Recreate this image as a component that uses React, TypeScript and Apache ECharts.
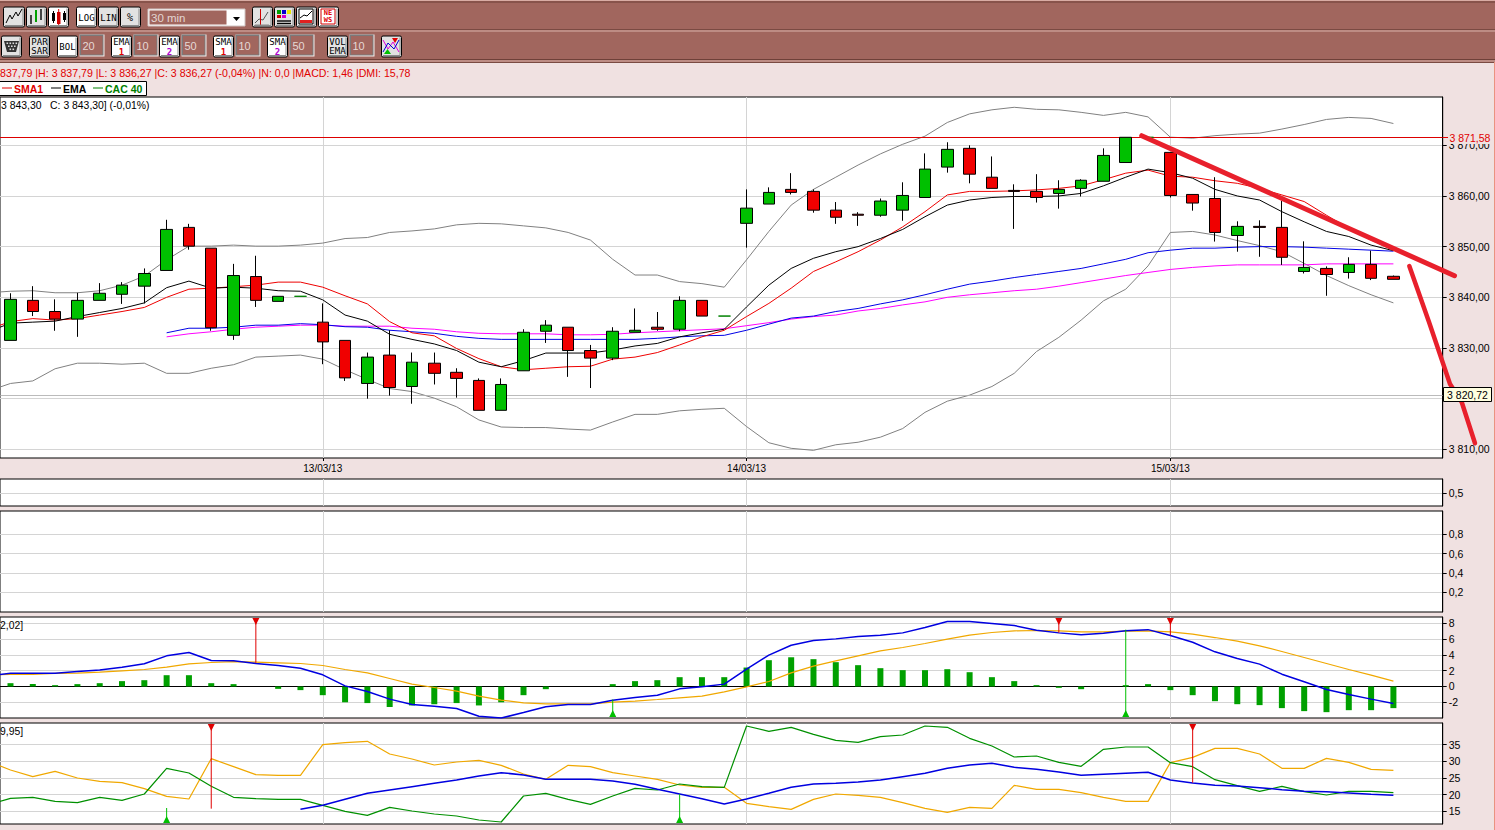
import React, { useEffect, useRef } from "react";
import * as echarts from "echarts";

// ---------- Price panel ----------
const opens = [3831.5,3839.4,3837.2,3835.7,3839.4,3840.6,3842.2,3845.3,3853.8,3849.7,3832.5,3844.1,3839.2,3840.2,3835.1,3831.5,3823.0,3828.6,3822.4,3827.0,3825.2,3823.6,3817.7,3825.5,3833.3,3834.1,3829.5,3828.0,3833.1,3834.1,3833.7,3839.4,3836.3,3854.6,3858.4,3861.3,3860.9,3857.2,3856.4,3856.2,3857.2,3859.7,3865.7,3869.4,3863.7,3861.1,3860.9,3860.5,3861.5,3862.9,3866.6,3871.58,3868.6,3860.3,3859.5,3852.2,3854.0,3853.8,3845.1,3845.7,3844.9,3846.5,3844.15];
const closes = [3839.6,3837.2,3835.7,3839.4,3840.8,3842.4,3844.7,3853.4,3850.1,3834.0,3844.3,3839.4,3840.2,3840.2,3831.2,3824.1,3828.2,3822.2,3827.2,3825.0,3824.0,3817.7,3822.8,3833.1,3834.5,3829.5,3828.0,3833.3,3833.5,3833.7,3839.4,3836.3,3836.3,3857.6,3860.7,3860.7,3857.2,3855.8,3856.2,3859.0,3860.1,3865.3,3869.2,3864.3,3861.5,3860.9,3859.7,3861.3,3863.1,3868.0,3871.58,3871.58,3860.1,3858.6,3852.8,3854.0,3853.8,3847.9,3845.9,3844.5,3846.5,3843.75,3843.55];
const lows = [3831.5,3836.3,3833.4,3832.2,3839.4,3838.7,3838.8,3845.3,3849.4,3833.4,3831.6,3838.1,3839.2,3840.2,3826.8,3823.5,3820.0,3820.6,3819.0,3822.8,3820.2,3817.7,3817.7,3825.5,3831.0,3824.3,3822.1,3827.6,3833.1,3833.4,3833.3,3836.3,3836.3,3849.8,3858.4,3860.3,3856.7,3854.5,3854.1,3855.9,3855.1,3859.7,3864.6,3862.5,3861.5,3853.5,3858.7,3857.5,3859.9,3862.9,3866.6,3871.58,3859.7,3857.1,3851.0,3849.0,3848.0,3846.4,3844.7,3840.3,3843.7,3843.4,3843.55];
const highs = [3840.8,3842.2,3839.6,3840.9,3842.8,3843.0,3845.7,3855.3,3854.5,3849.7,3846.6,3848.2,3840.2,3840.2,3838.8,3831.5,3829.1,3833.5,3829.1,3829.1,3826.0,3824.0,3824.0,3833.7,3835.5,3834.1,3830.6,3834.1,3837.8,3837.1,3840.2,3839.4,3836.3,3861.3,3861.7,3864.5,3861.3,3858.8,3856.8,3859.5,3862.7,3868.4,3870.6,3870.0,3867.8,3862.3,3864.3,3863.1,3863.3,3869.4,3871.58,3871.58,3868.6,3860.3,3863.7,3855.0,3855.2,3859.0,3851.05,3846.1,3847.9,3849.2,3844.3];

const bollUpper = [3841.2,3841.3,3840.9,3840.9,3841.3,3842.4,3844.2,3847.4,3850.1,3850.1,3850.3,3850.1,3850.1,3850.3,3850.7,3851.6,3851.8,3852.8,3853.1,3853.5,3854.3,3854.6,3854.5,3854.1,3853.7,3852.8,3851.3,3847.5,3844.4,3844.4,3843.1,3842.7,3842.0,3847.4,3853.0,3858.2,3861.3,3863.7,3866.1,3868.3,3870.2,3871.8,3874.5,3876.2,3877.0,3877.5,3877.1,3877.0,3876.5,3875.9,3876.5,3875.6,3871.6,3871.4,3871.9,3872.2,3872.4,3873.2,3874.1,3875.1,3875.5,3875.3,3874.3];
const bollLower = [3823.0,3823.5,3825.9,3827.0,3827.0,3826.8,3827.0,3825.0,3825.0,3826.0,3826.7,3828.2,3828.4,3828.6,3827.8,3825.7,3823.8,3822.0,3821.4,3820.1,3818.4,3815.8,3814.4,3814.3,3814.3,3814.0,3813.8,3815.4,3816.9,3816.9,3817.6,3817.9,3818.1,3814.5,3811.3,3810.2,3809.8,3810.9,3811.4,3812.4,3814.1,3817.3,3819.5,3820.7,3822.4,3825.0,3829.3,3832.1,3835.5,3839.3,3841.6,3846.2,3852.8,3853.0,3852.3,3851.2,3850.2,3849.0,3846.7,3844.3,3842.3,3840.5,3838.9];
const sma1 = [3835.2,3835.8,3835.5,3835.8,3836.5,3837.2,3838.0,3840.0,3841.6,3841.8,3842.1,3842.4,3843.0,3843.0,3842.0,3840.3,3838.7,3835.2,3833.0,3832.4,3829.9,3827.9,3826.3,3825.7,3826.0,3826.3,3826.4,3827.8,3828.2,3829.1,3830.6,3832.2,3833.5,3836.2,3838.8,3841.8,3845.1,3847.0,3849.0,3851.3,3853.9,3856.9,3860.2,3860.9,3860.9,3861.0,3861.2,3861.5,3862.0,3863.2,3864.5,3865.1,3863.9,3863.7,3863.0,3862.5,3861.5,3860.2,3858.9,3856.2,3853.6,3851.3,3849.3];
const ema1 = [3834.9,3835.1,3835.3,3836.2,3837.0,3837.8,3838.9,3841.9,3843.2,3841.8,3842.0,3841.8,3841.3,3841.2,3839.5,3836.5,3835.3,3832.7,3831.7,3830.8,3829.5,3827.2,3826.3,3827.5,3829.0,3829.0,3829.0,3829.6,3830.4,3830.9,3832.2,3833.0,3833.7,3838.1,3842.4,3845.7,3847.7,3849.0,3850.0,3851.6,3853.4,3855.9,3858.2,3859.2,3859.7,3859.9,3859.9,3860.0,3860.5,3862.0,3863.7,3865.3,3864.6,3863.5,3861.3,3860.0,3859.2,3856.9,3854.9,3853.0,3852.0,3850.3,3849.2];
const ema2 = [null,null,null,null,null,null,null,3833.0,3833.9,3833.9,3834.1,3834.5,3834.5,3834.8,3834.6,3834.2,3834.1,3833.5,3833.2,3832.9,3832.3,3831.9,3831.7,3831.7,3831.7,3831.7,3831.7,3831.7,3831.7,3831.9,3832.2,3832.4,3832.5,3833.5,3834.7,3835.9,3836.3,3837.2,3837.8,3838.7,3839.5,3840.5,3841.6,3842.6,3843.2,3843.9,3844.5,3845.1,3845.7,3846.6,3847.5,3848.8,3849.3,3849.7,3849.7,3849.9,3850.0,3850.0,3849.9,3849.7,3849.5,3849.3,3849.1];
const sma2 = [null,null,null,null,null,null,null,3832.2,3832.8,3833.2,3833.7,3834.1,3834.3,3834.5,3834.5,3834.3,3834.3,3834.3,3833.9,3833.7,3833.2,3832.9,3832.8,3832.8,3832.8,3832.6,3832.6,3832.7,3833.0,3833.2,3833.4,3833.6,3833.8,3834.4,3835.0,3835.7,3836.2,3836.5,3837.3,3837.8,3838.5,3839.1,3840.0,3840.5,3840.9,3841.3,3841.6,3842.2,3842.9,3843.6,3844.3,3844.9,3845.5,3845.9,3846.2,3846.4,3846.4,3846.4,3846.4,3846.6,3846.6,3846.6,3846.6];

// values of the session just before the first visible candle (their lines enter from the left edge)
const bollUpperBefore = 3840.9;
const bollLowerBefore = 3821.5;
const sma1Before = 3833.7;
const ema1Before = 3833.2;

const levelHigh = 3871.58;
const levelLast = 3820.72;
const priceTicks = [3810, 3820, 3830, 3840, 3850, 3860, 3870];
const priceLabels = [3810, 3830, 3840, 3850, 3860, 3870];
const dateIndexes = [14, 33, 52];
const dateLabels = ["13/03/13", "14/03/13", "15/03/13"];

// ---------- MACD panel ----------
const macdHist = [0.42,0.3,0.17,0.3,0.42,0.68,0.8,1.43,1.43,0.42,0.3,0,-0.3,-0.46,-1.1,-2.0,-2.1,-2.6,-2.4,-2.25,-2.1,-2.4,-2.0,-1.1,-0.34,0,0,0.3,0.68,0.8,1.18,1.18,1.18,2.4,3.33,3.7,3.46,3.08,2.7,2.32,2.07,2.07,2.19,1.81,1.18,0.68,0.17,-0.17,-0.34,0,0.17,0.3,-0.46,-1.1,-1.86,-2.24,-2.36,-2.74,-3.12,-3.25,-3.0,-3.0,-2.74];
const macdLine = [1.69,1.69,1.69,1.9,2.1,2.45,2.87,3.88,4.3,3.29,3.25,2.91,2.66,2.32,1.48,0.08,-0.63,-1.6,-2.28,-2.49,-2.78,-3.76,-4.0,-3.29,-2.57,-2.28,-2.28,-1.73,-1.39,-1.1,-0.3,-0.04,0.3,2.19,3.97,5.23,5.82,6.03,6.33,6.5,6.79,7.47,8.23,8.23,7.97,7.72,7.13,6.79,6.54,6.75,7.05,7.2,6.46,5.61,4.39,3.54,2.83,1.56,0.59,-0.38,-1.01,-1.6,-2.15];
const macdSignal = [1.52,1.52,1.65,1.69,1.81,1.98,2.15,2.45,2.87,3.04,3.16,3.08,3.0,2.91,2.66,2.15,1.73,1.01,0.3,-0.13,-0.59,-1.22,-1.73,-2.07,-2.19,-2.19,-2.19,-1.98,-1.86,-1.65,-1.43,-1.22,-0.68,-0.04,0.63,1.73,2.57,3.25,3.88,4.51,4.94,5.44,5.99,6.5,6.84,7.05,7.09,7.05,6.92,6.92,7.0,7.05,6.92,6.62,6.2,5.74,5.15,4.43,3.67,2.91,2.15,1.43,0.68];
const macdLineBefore = 1.3;
const macdSignalBefore = 1.5;
const macdSell = [[11, 3.0], [47, 6.8], [52, 6.46]];
const macdBuy = [[27, -1.65], [50, 7.2]];
const macdTicks = [-2, 0, 2, 4, 6, 8];

// ---------- DMI panel ----------
const dmiMinus = [27.4,25.4,27,25,24,23.6,21.8,19.5,18.7,30.8,28.4,26,25.8,25.8,35,35.6,36,32.2,30.7,28.9,29.8,30.3,28.8,26.2,24.6,28.8,28.4,26.6,25.6,24.6,22.9,22.2,22.2,17.4,16.4,15.6,18.6,20.2,19.8,19.2,17.6,15.9,14.7,16.2,15.9,22.8,21.6,21.6,20.6,19.2,18,18,29.6,31.2,33.9,33.9,32.2,27.9,27.9,30.9,29.7,27.6,27.3];
const dmiPlus = [18.9,19.2,18,17.6,19.2,18.3,20.2,27.9,26.5,22.5,19.2,18.8,18.6,18.6,16.8,15,13.8,16.2,15.1,14.2,13.6,12.4,11.8,19.6,20.4,18.6,17.1,19.6,21.9,21.4,23.2,22.4,22.2,40.6,39,40.2,38.1,36.3,35.7,37.4,37.9,40.6,40.2,36.9,34.6,31.3,31.6,29.7,28.5,33.6,34.3,34.3,29.6,28.4,24.5,22.7,21,22.5,20.9,19.9,21,21,20.6];
const adx = [null,null,null,null,null,null,null,null,null,null,null,null,null,15.6,16.8,18.6,20.4,21.4,22.4,23.4,24.4,25.6,26.6,25.9,24.6,24.6,24.6,24.1,23.1,21.6,20.2,18.8,17.2,18.7,20.4,22.2,23.2,23.4,23.8,24.4,25.4,26.4,27.9,28.9,29.4,28.2,27.6,26.8,25.8,26.1,26.4,26.7,24.4,23.5,22.8,22.6,22.1,21.5,21,20.9,20.5,20.1,19.8];
const dmiMinusBefore = 30;
const dmiPlusBefore = 16.9;
const dmiSell = [[9, 15.8], [53, 23.6]];
const dmiBuy = [[7, 16], [30, 20.2]];
const dmiTicks = [15, 20, 25, 30, 35];

const panel2Ticks = [0.5];
const panel3Ticks = [0.2, 0.4, 0.6, 0.8];

// ---------- Text ----------
const infoText = "837,79 |H: 3 837,79 |L: 3 836,27 |C: 3 836,27 (-0,04%) |N: 0,0 |MACD: 1,46 |DMI: 15,78";
const priceCaption = "3 843,30   C: 3 843,30] (-0,01%)";
const macdCaption = "2,02]";
const dmiCaption = "9,95]";
const timeframe = "30 min";

const FONT = "'Liberation Sans', Arial, sans-serif";
const MONO = "'DejaVu Sans Mono', monospace";
const GRID = "#d4d4d4";
const BROWN = "#a1665e";
const PAGE = "#f0e1e1";

const fmtPrice = (v: number) => {
  const s = v.toFixed(2).replace(".", ",");
  return s.slice(0, 1) + " " + s.slice(1);
};
const fmtComma = (v: number) => String(v).replace(".", ",");
const withIndex = (a: (number | null)[], before?: number) => {
  const pts = a.map((v, i) => [i, v]);
  return before === undefined ? pts : [[-1, before], ...pts];
};

const rect = (x: number, y: number, w: number, h: number, fill: string, stroke?: string, r = 0, z = 1) => ({
  type: "rect", z, shape: { x, y, width: w, height: h, r }, style: { fill, stroke: stroke || "none", lineWidth: 1 },
});
const txt = (x: number, y: number, text: string, fill: string, font: string, align = "center", z = 7) => ({
  type: "text", z, style: { x, y, text, fill, font, textAlign: align, textVerticalAlign: "middle" },
});
const seg = (x1: number, y1: number, x2: number, y2: number, stroke: string, lineWidth = 1, z = 3) => ({
  type: "line", z, shape: { x1, y1, x2, y2 }, style: { stroke, lineWidth },
});
const poly = (points: number[][], stroke: string, lineWidth = 1, z = 3) => ({
  type: "polyline", z, shape: { points }, style: { stroke, lineWidth, fill: "none" },
});

function button(x: number, y: number, w: number, h: number, fill: string) {
  return [
    rect(x + 0.5, y + 0.5, w, h, fill, "#000", 1.5, 2),
    seg(x + 2, y + h - 1, x + w - 1, y + h - 1, "#8a8a8a"),
    seg(x + w - 1, y + 2, x + w - 1, y + h - 1, "#8a8a8a"),
  ];
}
// sunken entry box, built from three stacked fills
function field(x: number, y: number, w: number, h: number, label: string) {
  return [
    rect(x - 1, y - 1, w + 2, h + 2, "#f6eeec", undefined, 0, 4),
    rect(x - 1, y - 1, w + 1, h + 1, "#7a7a7a", undefined, 0, 5),
    rect(x + 0.5, y + 0.5, w - 1.5, h - 1.5, BROWN, undefined, 0, 6),
    txt(x + 2, y + h / 2 + 0.5, label, "#e6d9d6", "11px " + FONT, "left"),
  ];
}

function toolbar(): any[] {
  const el: any[] = [];
  el.push(rect(0, 0, 1495, 62, BROWN, undefined, 0, 0));
  el.push(seg(0, 0.5, 1495, 0.5, "#d9aca4", 1, 1), seg(0, 2, 1495, 2, "#6e4038", 1, 1));
  el.push(seg(0, 29.5, 1495, 29.5, "#7a4a42", 1, 1), seg(0, 31, 1495, 31, "#c79a92", 1.5, 1));
  el.push(seg(0, 59.5, 1495, 59.5, "#6e4038", 1, 1), seg(0, 61, 1495, 61, "#c79a92", 1.5, 1), seg(0, 62.5, 1495, 62.5, "#7a4a42", 1, 1));
  el.push(seg(1494.5, 62, 1494.5, 830, "#ea9280", 1, 1));
  // first row
  const y1 = 6.5, h1 = 20;
  el.push(...button(3, y1, 21, h1, "#e2e2e2"));
  el.push(poly([[6, 23], [10, 15], [12, 19], [16, 12], [18, 16], [22, 9]], "#000"));
  el.push(...button(26, y1, 20, h1, "#e2e2e2"));
  el.push(seg(31, 15, 31, 24, "#000", 1.4), seg(36, 10, 36, 22, "#00a000", 2), seg(41, 9, 41, 20, "#000", 1.4));
  el.push(...button(48, y1, 20, h1, "#fff"));
  el.push(rect(52, 13, 3, 8, "#000", undefined, 0, 3), seg(53.5, 11, 53.5, 23, "#000"), rect(57, 12, 3.5, 12, "#d00000", undefined, 0, 3), seg(58.7, 9, 58.7, 25, "#d00000"), rect(63, 13, 3, 7, "#000", undefined, 0, 3), seg(64.5, 11, 64.5, 22, "#000"));
  el.push(...button(76, y1, 20, h1, "#fff"), txt(86.5, 18, "LOG", "#000", "9px " + MONO));
  el.push(...button(98, y1, 20, h1, "#e2e2e2"), txt(108.5, 17.5, "LIN", "#000", "9px " + MONO));
  el.push(...button(120, y1, 20, h1, "#e2e2e2"), txt(130, 17.5, "%", "#000", "10px " + MONO));
  // drop-down
  el.push(rect(148, 9, 97, 17, "#fff", "#cfc4c2", 0, 2));
  el.push(rect(149.5, 10.5, 77, 14, BROWN, undefined, 0, 3));
  el.push(txt(151, 18, timeframe, "#e4d6d3", "11.5px " + FONT, "left"));
  el.push({ type: "polygon", z: 3, shape: { points: [[233, 17], [240, 17], [236.5, 21]] }, style: { fill: "#000" } });
  // chart tools
  el.push(...button(252, y1, 20, h1, "#e2e2e2"));
  el.push(poly([[255, 23], [259, 19], [263, 20], [268, 12]], "#555"), seg(260.5, 9, 260.5, 25, "#d00000"), seg(255, 25, 269, 25, "#888"));
  el.push(...button(274, y1, 20, h1, "#e2e2e2"));
  el.push(rect(277, 10, 4, 4, "#00a000", undefined, 0, 3), rect(282, 10, 4, 4, "#0000d0", undefined, 0, 3), rect(287, 10, 4, 4, "#e8e800", undefined, 0, 3), rect(277, 15, 4, 3, "#d00000", undefined, 0, 3), rect(282, 15, 4, 3, "#d000d0", undefined, 0, 3), seg(277, 21, 291, 21, "#000", 1.4), seg(277, 23.5, 291, 23.5, "#000", 1.4));
  el.push(...button(296, y1, 20, h1, "#e2e2e2"));
  el.push(rect(299, 9, 14, 15, "#fff", "#000", 0, 3), poly([[300, 18], [304, 15], [307, 16], [312, 11]], "#000", 1, 4), rect(300, 20, 12, 3, "#e02020", undefined, 0, 4));
  el.push(...button(318, y1, 20, h1, "#fff"));
  el.push(rect(321, 9, 14, 15, "#fff", "#d00000", 0, 3), txt(328, 13, "NE", "#e00000", "bold 7px " + MONO), txt(328, 20, "WS", "#e00000", "bold 7px " + MONO));
  // second row
  const y2 = 35.5, h2 = 21;
  el.push(...button(1, y2, 20, h2, "#e2e2e2"));
  el.push({ type: "polygon", z: 3, shape: { points: [[4, 41], [19, 41], [16, 52], [7, 52]] }, style: { fill: "#333" } });
  for (let r = 0; r < 3; r++) for (let c = 0; c < 4 - r; c++) el.push(rect(6.5 + r * 1.5 + c * 3, 42.5 + r * 3, 1.6, 1.6, "#ddd", undefined, 0, 4));
  el.push(...button(29, y2, 20, h2, "#e2e2e2"), txt(39.5, 41.5, "PAR", "#000", "9px " + MONO), txt(39.5, 51, "SAR", "#000", "9px " + MONO));
  el.push(...button(57, y2, 20, h2, "#fff"), txt(67.5, 47, "BOL", "#000", "9px " + MONO));
  el.push(...field(80.5, 35.5, 23, 20, "20"));
  const ind = (x: number, a: string, b: string, col: string, iv: string, ix: number) => {
    el.push(...button(x, y2, 20, h2, "#fff"), txt(x + 10.5, 42, a, "#000", "9px " + MONO), txt(x + 10.5, 52, b, col, "bold 9px " + MONO));
    el.push(...field(ix, 35.5, 23, 20, iv));
  };
  ind(111, "EMA", "1", "#e00000", "10", 134.5);
  ind(159, "EMA", "2", "#b000d0", "50", 182.5);
  ind(213, "SMA", "1", "#e00000", "10", 236.5);
  ind(267, "SMA", "2", "#b000d0", "50", 290.5);
  el.push(...button(327, y2, 20, h2, "#e2e2e2"), txt(337.5, 41.5, "VOL", "#000", "9px " + MONO), txt(337.5, 51, "EMA", "#000", "9px " + MONO));
  el.push(...field(350.5, 35.5, 23, 20, "10"));
  el.push(...button(381, y2, 20, h2, "#e2e2e2"));
  el.push(poly([[383, 40], [388, 49], [393, 42], [399, 52]], "#e000e0"), poly([[383, 52], [388, 43], [394, 49], [399, 40]], "#0000d0"));
  el.push({ type: "polygon", z: 4, shape: { points: [[392, 38], [398, 38], [395, 43]] }, style: { fill: "#e00000" } });
  el.push({ type: "polygon", z: 4, shape: { points: [[384, 54], [391, 54], [387.5, 49]] }, style: { fill: "#00c000" } });
  // info line + legend
  el.push(txt(0, 72.5, infoText, "#e00000", "10.6px " + FONT, "left"));
  el.push(rect(-2, 81.5, 148.5, 14, "#fff", "#000"));
  el.push(seg(2, 88, 12, 88, "#e00000"), txt(14, 88.5, "SMA1", "#e00000", "bold 10.5px " + FONT, "left"));
  el.push(seg(51, 88, 61, 88, "#000"), txt(63, 88.5, "EMA", "#000", "bold 10.5px " + FONT, "left"));
  el.push(seg(93, 88, 103, 88, "#008000"), txt(105, 88.5, "CAC 40", "#008000", "bold 10.5px " + FONT, "left"));
  return el;
}

function overlay(): any[] {
  return [
    txt(1, 105.5, priceCaption, "#000", "10.4px " + FONT, "left", 50),
    txt(0, 625.5, macdCaption, "#000", "10.4px " + FONT, "left", 50),
    txt(0, 731.5, dmiCaption, "#000", "10.4px " + FONT, "left", 50),
    // hand-drawn trend strokes
    { type: "line", z: 60, shape: { x1: 1141.7, y1: 135.7, x2: 1454.5, y2: 275.7 }, style: { stroke: "#e8202c", lineWidth: 5, lineCap: "round" } },
    { type: "polyline", z: 60, shape: { points: [[1409.3, 266], [1429, 322], [1450, 384], [1461.7, 402], [1475, 443.3]] }, style: { stroke: "#e8202c", lineWidth: 4.5, lineCap: "round", fill: "none" } },
    seg(1443, 137.5, 1448, 137.5, "#e00000", 1, 61),
    rect(1448, 131, 44, 13, PAGE, undefined, 0, 62),
    txt(1449.5, 137.5, fmtPrice(levelHigh), "#e00000", "10.5px " + FONT, "left", 63),
    rect(1443.5, 387.5, 48, 14, "#ffffe0", "#000", 0, 62),
    txt(1467.5, 394.5, fmtPrice(levelLast), "#000", "10.5px " + FONT, "center", 63),
  ];
}

const arrowItem = (color: string, down: boolean) => (params: any, api: any) => {
  const p = api.coord([api.value(0), api.value(1)]);
  const cs = params.coordSys;
  const edge = down ? cs.y + 1 : cs.y + cs.height - 1;
  const tip = down ? edge + 7 : edge - 7;
  return {
    type: "group",
    children: [
      { type: "line", shape: { x1: p[0], y1: edge, x2: p[0], y2: p[1] }, style: { stroke: color, lineWidth: 1 } },
      { type: "polygon", shape: { points: [[p[0] - 3.5, edge], [p[0] + 3.5, edge], [p[0], tip]] }, style: { fill: color } },
    ],
  };
};

const X_MIN = -0.4704;
const X_MAX = 64.21;

function App() {
  const ref = useRef<HTMLDivElement | null>(null);
  useEffect(() => {
    if (!ref.current) return;
    const chart = echarts.init(ref.current, undefined, { renderer: "svg" });
    const grid = (top: number, height: number) => ({
      show: true, left: -1, width: 1443.7, top, height, backgroundColor: "#fff", borderColor: "#000", borderWidth: 1, containLabel: false,
    });
    const xAxis = (gridIndex: number, labels = false) => ({
      type: "value", gridIndex, min: X_MIN, max: X_MAX, scale: true,
      axisLine: { show: gridIndex === 3, onZero: true, lineStyle: { color: "#000", width: 1 } },
      axisTick: { show: labels, length: 3, customValues: dateIndexes, lineStyle: { color: "#000" } },
      axisLabel: labels
        ? { show: true, customValues: dateIndexes, margin: 5, color: "#000", fontSize: 10, fontFamily: FONT,
            formatter: (v: number) => dateLabels[dateIndexes.indexOf(v)] }
        : { show: false },
      splitLine: { show: true, lineStyle: { color: GRID, width: 1 } },
    });
    const yAxis = (gridIndex: number, min: number, max: number, ticks: number[], labels: number[], fmt: (v: number) => string) => ({
      type: "value", gridIndex, position: "right", min, max, scale: true,
      axisLine: { show: true, onZero: false, lineStyle: { color: "#000", width: 1 } },
      axisTick: { show: true, length: 4, customValues: ticks, lineStyle: { color: "#000" } },
      axisLabel: { show: true, customValues: labels, margin: 6, color: "#000", fontSize: 10.5, fontFamily: FONT, formatter: fmt },
      splitLine: { show: true, lineStyle: { color: GRID, width: 1 } },
    });
    const line = (name: string, data: (number | null)[], color: string, xi: number, width = 1, z = 2, before?: number) => ({
      name, type: "line", xAxisIndex: xi, yAxisIndex: xi, data: withIndex(data, before), showSymbol: false, symbol: "none",
      lineStyle: { color, width }, connectNulls: false, silent: true, z,
    });
    const arrows = (name: string, data: number[][], color: string, xi: number, down: boolean) => ({
      name, type: "custom", xAxisIndex: xi, yAxisIndex: xi, data, renderItem: arrowItem(color, down), silent: true, z: 4,
      encode: { x: 0, y: 1 }, clip: false,
    });
    const idx = opens.map((_, i) => i);
    const body = idx.filter((i) => opens[i] !== closes[i]).map((i) => [i, opens[i], closes[i], lows[i], highs[i]]);
    const flat = idx.filter((i) => opens[i] === closes[i]).map((i) => [i, opens[i], closes[i], lows[i], highs[i]]);

    chart.setOption({
      animation: false,
      backgroundColor: PAGE,
      textStyle: { fontFamily: FONT },
      graphic: { elements: [...toolbar(), ...overlay()] },
      grid: [grid(97, 361), grid(479, 27), grid(511, 101), grid(617, 101), grid(723, 101)],
      xAxis: [xAxis(0, true), xAxis(1), xAxis(2), xAxis(3), xAxis(4)],
      yAxis: [
        yAxis(0, 3808.29, 3879.53, priceTicks, priceLabels, fmtPrice),
        yAxis(1, 0.03, 1.03, panel2Ticks, panel2Ticks, fmtComma),
        yAxis(2, -0.004, 1.041, panel3Ticks, panel3Ticks, fmtComma),
        yAxis(3, -3.99, 8.8, macdTicks, macdTicks, fmtComma),
        yAxis(4, 11.2, 41.5, dmiTicks, dmiTicks, fmtComma),
      ],
      series: [
        line("Bollinger upper", bollUpper, "#808080", 0, 1, 2, bollUpperBefore),
        line("Bollinger lower", bollLower, "#808080", 0, 1, 2, bollLowerBefore),
        line("SMA2", sma2, "#ff00ff", 0),
        line("EMA2", ema2, "#0000e6", 0),
        line("SMA1", sma1, "#ee0000", 0, 1, 2, sma1Before),
        line("EMA", ema1, "#000000", 0, 1, 2, ema1Before),
        {
          name: "CAC 40", type: "candlestick", xAxisIndex: 0, yAxisIndex: 0, data: body, barWidth: 12, z: 5,
          itemStyle: { color: "#00c000", color0: "#f00000", borderColor: "#000", borderColor0: "#000", borderWidth: 1 }, silent: true,
        },
        {
          name: "CAC 40 flat", type: "candlestick", xAxisIndex: 0, yAxisIndex: 0, data: flat, barWidth: 12, z: 5,
          itemStyle: { color: "#008000", color0: "#008000", borderColor: "#008000", borderColor0: "#008000", borderColorDoji: "#008000", borderWidth: 1 }, silent: true,
        },
        {
          name: "Levels", type: "line", xAxisIndex: 0, yAxisIndex: 0, data: [], z: 6, silent: true,
          markLine: {
            silent: true, symbol: "none", animation: false, label: { show: false },
            data: [
              { yAxis: levelHigh, lineStyle: { color: "#dd0000", width: 1, type: "solid" } },
              { yAxis: levelLast, lineStyle: { color: "rgba(170,170,170,0.8)", width: 1, type: "solid" } },
            ],
          },
        },
        { name: "MACD hist", type: "bar", xAxisIndex: 3, yAxisIndex: 3, data: withIndex(macdHist), barWidth: 6, itemStyle: { color: "#00a000" }, silent: true, z: 2 },
        line("MACD signal", macdSignal, "#f0a800", 3, 1.2, 3, macdSignalBefore),
        line("MACD", macdLine, "#0000e0", 3, 1.5, 3, macdLineBefore),
        arrows("MACD sell", macdSell, "#e00000", 3, true),
        arrows("MACD buy", macdBuy, "#00c000", 3, false),
        line("DMI-", dmiMinus, "#f0a800", 4, 1.2, 3, dmiMinusBefore),
        line("DMI+", dmiPlus, "#009000", 4, 1.2, 3, dmiPlusBefore),
        line("ADX", adx, "#0000e0", 4, 1.5, 3),
        arrows("DMI sell", dmiSell, "#e00000", 4, true),
        arrows("DMI buy", dmiBuy, "#00c000", 4, false),
      ],
    });
    return () => chart.dispose();
  }, []);
  return <div ref={ref} style={{ position: "fixed", left: 0, top: 0, width: 1495, height: 830 }} />;
}

export default App;
